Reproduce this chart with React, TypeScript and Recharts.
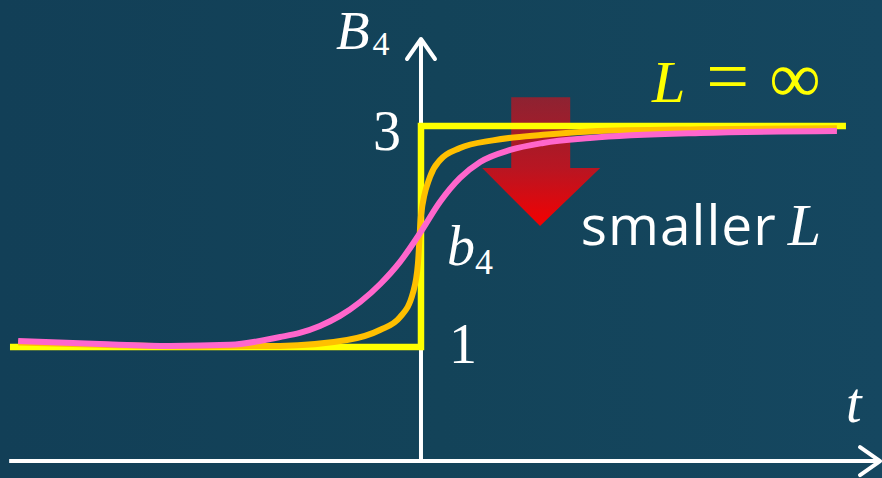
import React from 'react';
import { ComposedChart, Line, XAxis, YAxis, ReferenceLine, ReferenceDot, ReferenceArea } from 'recharts';

const W = 882;
const H = 478;

// L = infinity: step from 1 to 3 at t = 0
const stepT = [-10.0, 0, 0, 10.34];
const stepB = [1, 1, 3, 3];

// large L (orange)
const orangeT = [-9.8, -7.8, -5.4, -3.43, -1.8, -1.0, -0.51, -0.195, -0.073, 0, 0.22, 0.46, 0.95, 1.75, 2.97, 4.11, 6.79, 10.12];
const orangeB = [1.04, 1.02, 1.005, 1.01, 1.063, 1.154, 1.27, 1.49, 1.76, 2.19, 2.54, 2.69, 2.8, 2.87, 2.92, 2.95, 2.97, 2.98];

// smaller L (pink)
const pinkT = [-9.8, -7.81, -6.1, -4.65, -3.43, -2.95, -2.46, -1.97, -1.48, -0.99, -0.51, -0.02, 0.46, 0.95, 1.44, 2.17, 2.97, 4.11, 6.79, 10.12];
const pinkB = [1.054, 1.027, 1.01, 1.02, 1.09, 1.127, 1.19, 1.281, 1.407, 1.57, 1.77, 2.032, 2.312, 2.53, 2.674, 2.783, 2.846, 2.891, 2.937, 2.955];

const T_DOMAIN: [number, number] = [-10.243, 11.217];
const B_DOMAIN: [number, number] = [-0.1855, 4.14];
const AXIS_B = -0.032;
const T_START = -10.02;
const T_TIP = 11.17;
const B_TIP = 3.787;

// red "smaller L" arrow box
const arrowT = [1.49, 4.36];
const arrowB = [2.095, 3.26];

const SERIF = '"Liberation Serif", "DejaVu Serif", serif';
const SANS = '"Open Sans", "Noto Sans", sans-serif';

const pts = (ts: number[], bs: number[]) => ts.map((t, i) => ({ t, b: bs[i] }));

const AxisArrow = (p: any) => {
  const { x1, y1, x2, y2 } = p;
  const a = Math.atan2(y2 - y1, x2 - x1);
  const back = 20;
  const half = 14;
  const bx = x2 - back * Math.cos(a);
  const by = y2 - back * Math.sin(a);
  const nx = -Math.sin(a) * half;
  const ny = Math.cos(a) * half;
  return (
    <g stroke="#fff" strokeWidth={4} fill="none" strokeLinecap="round" strokeLinejoin="round">
      <line x1={x1} y1={y1} x2={x2} y2={y2} strokeLinecap="butt" />
      <polyline points={`${bx + nx},${by + ny} ${x2},${y2} ${bx - nx},${by - ny}`} />
    </g>
  );
};

const RedArrow = (p: any) => {
  const { x, y, width, height } = p;
  const sl = x + width * 0.246;
  const sr = x + width * 0.746;
  const hy = y + height * 0.55;
  const d = `M${sl},${y} L${sr},${y} L${sr},${hy} L${x + width},${hy} L${x + width * 0.49},${y + height} L${x},${hy} L${sl},${hy} Z`;
  return (
    <g>
      <defs>
        <linearGradient id="redArrow" x1="0" y1="0" x2="0" y2="1">
          <stop offset="0%" stopColor="rgb(230,10,20)" stopOpacity={0.58} />
          <stop offset="55%" stopColor="rgb(225,10,20)" stopOpacity={0.8} />
          <stop offset="100%" stopColor="rgb(245,0,0)" stopOpacity={1} />
        </linearGradient>
      </defs>
      <path d={d} fill="url(#redArrow)" />
    </g>
  );
};

const at = (render: (x: number, y: number) => React.ReactNode) => (p: any) => {
  const vb = p.viewBox || {};
  return <g>{render(vb.x, vb.y)}</g>;
};

export default function App() {
  return (
    <div
      style={{
        position: 'fixed',
        left: 0,
        top: 0,
        width: W,
        height: H,
        background: 'linear-gradient(90deg, #123f57 0%, #134359 50%, #154760 100%)',
      }}
    >
      <ComposedChart width={W} height={H} margin={{ top: 0, right: 0, bottom: 0, left: 0 }}>
        <XAxis dataKey="t" type="number" domain={T_DOMAIN} allowDataOverflow hide />
        <YAxis dataKey="b" type="number" domain={B_DOMAIN} allowDataOverflow hide />

        <ReferenceLine segment={[{ x: T_START, y: AXIS_B }, { x: T_TIP, y: AXIS_B }]} shape={AxisArrow} />
        <ReferenceLine segment={[{ x: 0, y: AXIS_B }, { x: 0, y: B_TIP }]} shape={AxisArrow} />

        <Line data={pts(stepT, stepB)} dataKey="b" type="linear" stroke="#ffff00" strokeWidth={6.5} dot={false} activeDot={false} isAnimationActive={false} strokeLinejoin="miter" />
        <Line data={pts(orangeT, orangeB)} dataKey="b" type="monotone" stroke="#ffc000" strokeWidth={6} dot={false} activeDot={false} isAnimationActive={false} />
        <Line data={pts(pinkT, pinkB)} dataKey="b" type="monotone" stroke="#ff66cc" strokeWidth={6} dot={false} activeDot={false} isAnimationActive={false} />

        <ReferenceArea x1={arrowT[0]} x2={arrowT[1]} y1={arrowB[0]} y2={arrowB[1]} shape={RedArrow} />

        <ReferenceDot x={-2.07} y={3.697} r={0} fill="none" stroke="none"
          label={at((x, y) => (
            <text x={x} y={y} fill="#fff" fontFamily={SERIF} fontSize={55}>
              <tspan fontStyle="italic">B</tspan>
              <tspan fontSize={34} dx={3} dy={6}>4</tspan>
            </text>
          ))} />
        <ReferenceDot x={-1.17} y={2.783} r={0} fill="none" stroke="none"
          label={at((x, y) => (
            <text x={x} y={y} fill="#fff" fontFamily={SERIF} fontSize={56}>3</text>
          ))} />
        <ReferenceDot x={0.68} y={0.855} r={0} fill="none" stroke="none"
          label={at((x, y) => (
            <text x={x} y={y} fill="#fff" fontFamily={SERIF} fontSize={56}>1</text>
          ))} />
        <ReferenceDot x={0.63} y={1.742} r={0} fill="none" stroke="none"
          label={at((x, y) => (
            <text x={x} y={y} fill="#fff" fontFamily={SERIF} fontSize={56}>
              <tspan fontStyle="italic">b</tspan>
              <tspan fontSize={36} dy={9}>4</tspan>
            </text>
          ))} />
        <ReferenceDot x={10.34} y={0.321} r={0} fill="none" stroke="none"
          label={at((x, y) => (
            <text x={x} y={y} fill="#fff" fontFamily={SERIF} fontSize={56} fontStyle="italic">t</text>
          ))} />
        <ReferenceDot x={5.62} y={3.217} r={0} fill="none" stroke="none"
          label={at((x, y) => (
            <text x={x} y={y} fill="#ffff00" fontFamily={SERIF} fontSize={60}>
              <tspan fontStyle="italic">L</tspan>
              <tspan dx={21} fontSize={76}>=</tspan>
              <tspan dx={20} fontSize={72}>∞</tspan>
            </text>
          ))} />
        <ReferenceDot x={3.89} y={1.923} r={0} fill="none" stroke="none"
          label={at((x, y) => (
            <text x={x} y={y} fill="#fff">
              <tspan fontFamily={SANS} fontSize={55} letterSpacing={1}>smaller</tspan>
              <tspan dx={11} fontFamily={SERIF} fontSize={60} fontStyle="italic">L</tspan>
            </text>
          ))} />
      </ComposedChart>
    </div>
  );
}
